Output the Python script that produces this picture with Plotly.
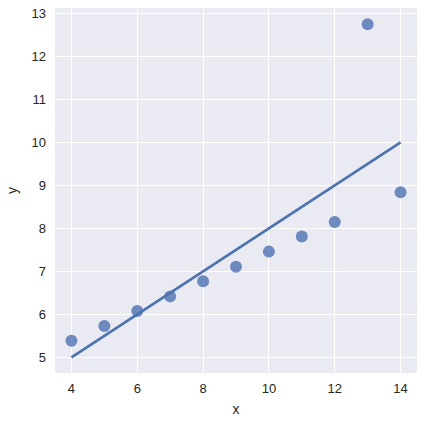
import numpy as np
import plotly.graph_objects as go

# Anscombe's quartet, dataset III
x = [10, 8, 13, 9, 11, 14, 6, 4, 12, 7, 5]
y = [7.46, 6.77, 12.74, 7.11, 7.81, 8.84, 6.08, 5.39, 8.15, 6.42, 5.73]
x_ticks = [4, 6, 8, 10, 12, 14]
y_ticks = [5, 6, 7, 8, 9, 10, 11, 12, 13]

BLUE = "#4C72B0"
FONT = "Liberation Sans, Arial, sans-serif"

slope, intercept = np.polyfit(x, y, 1)
line_x = np.linspace(min(x), max(x), 100)
line_y = intercept + slope * line_x

fig = go.Figure()
fig.add_scatter(
    x=x,
    y=y,
    mode="markers",
    marker={"color": BLUE, "size": 12, "opacity": 0.8, "line": {"width": 0}},
    showlegend=False,
)
fig.add_scatter(
    x=line_x,
    y=line_y,
    mode="lines",
    line={"color": BLUE, "width": 2.6},
    showlegend=False,
)

axis_common = {
    "showgrid": True,
    "gridcolor": "white",
    "gridwidth": 1,
    "zeroline": False,
    "showline": False,
    "ticks": "",
    "automargin": False,
    "tickfont": {"family": FONT, "size": 13, "color": "#262626"},
    "title_font": {"family": FONT, "size": 14, "color": "#262626"},
}
fig.update_xaxes(
    **axis_common,
    range=[3.5, 14.5],
    tickvals=x_ticks,
    ticklabelstandoff=6,
    title_text="x",
    title_standoff=9,
)
fig.update_yaxes(
    **axis_common,
    range=[4.64, 13.12],
    tickvals=y_ticks,
    ticklabelstandoff=8,
    title_text="y",
    title_standoff=10,
)
fig.update_layout(
    width=425,
    height=425,
    margin={"l": 55, "r": 8, "t": 8, "b": 52},
    plot_bgcolor="#EAEAF2",
    paper_bgcolor="white",
    font={"family": FONT},
)

# drop the default 8px body margin so the figure fills the window
fig.write_html(
    "out.html",
    config={"displayModeBar": False},
    post_script="document.body.style.margin = '0';",
)
